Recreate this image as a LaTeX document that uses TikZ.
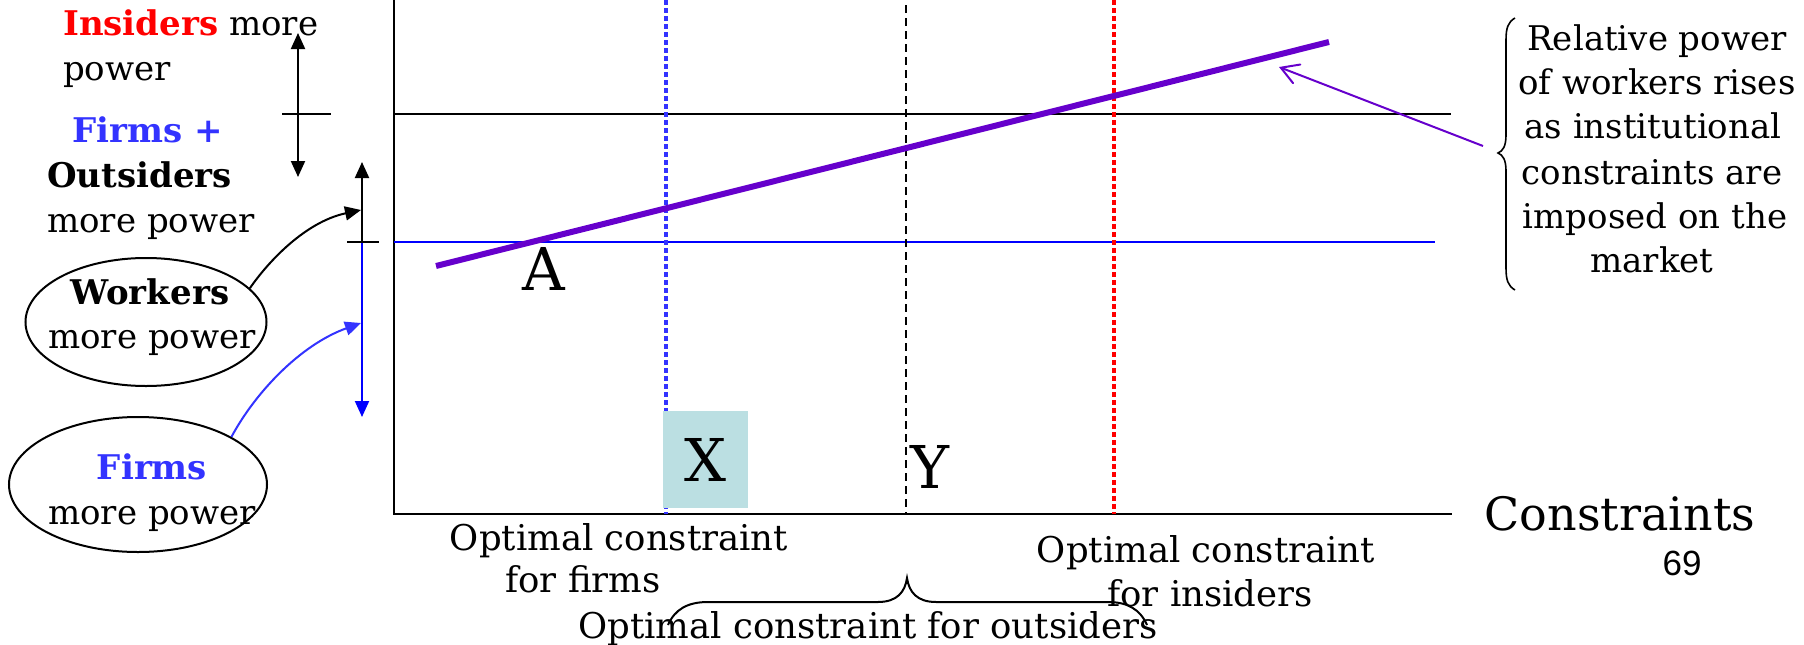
\documentclass[tikz,border=0pt]{standalone}
\usepackage{fontspec}
\setmainfont{DejaVu Serif}
\newfontfamily\numfont{Liberation Sans}
\usetikzlibrary{arrows.meta,shapes.geometric}
\definecolor{purp}{HTML}{6600CC}
\definecolor{fblue}{HTML}{3333FF}
\definecolor{pblue}{HTML}{0000FF}
\definecolor{lblue}{HTML}{BBDFE2}
\definecolor{pred}{HTML}{FF0000}
\tikzset{
  axisline/.style={line width=2.5pt, line cap=rect},
  btxt/.style={inner sep=0pt, anchor=base, font=\fontsize{35.5}{43}\selectfont},
  ltxt/.style={inner sep=0pt, anchor=base west, font=\fontsize{34}{44}\selectfont},
  etxt/.style={inner sep=0pt, anchor=base, font=\fontsize{34}{44}\selectfont},
  rtxt/.style={inner sep=0pt, anchor=base, font=\fontsize{34}{44}\selectfont},
  bigl/.style={inner sep=0pt, font=\fontsize{59}{70}\selectfont},
  oval/.style={draw, ellipse, line width=2pt, inner sep=0pt},
  tri/.style={-{Triangle[length=16pt,width=14pt]}},
  vdot/.style={line width=3.5pt, dash pattern=on 5pt off 3pt},
}
\begin{document}
\begin{tikzpicture}[x=1pt,y=-1pt]
\useasboundingbox (0,0) rectangle (1804,645);
% axes
\coordinate (ytop) at (394,0);
\coordinate (O) at (394,514);
\coordinate (xend) at (1451,514);
\draw[axisline] (ytop) -- (O) -- (xend);
% horizontal levels
\coordinate (hb0) at (394,114); \coordinate (hb1) at (1451,114);
\draw[line width=2pt] (hb0) -- (hb1);
\coordinate (hl0) at (394,242); \coordinate (hl1) at (1435,242);
\draw[line width=2.5pt, pblue] (hl0) -- (hl1);
% vertical constraint lines
\coordinate (vf0) at (666,0); \coordinate (vf1) at (666,514);
\draw[vdot, fblue] (vf0) -- (vf1);
\coordinate (vo0) at (906,5); \coordinate (vo1) at (906,514);
\draw[line width=1.5pt, dash pattern=on 8pt off 5pt] (vo0) -- (vo1);
\coordinate (vi0) at (1114,0); \coordinate (vi1) at (1114,514);
\draw[vdot, pred] (vi0) -- (vi1);
% X box
\node[bigl, fill=lblue, minimum width=85pt, minimum height=97pt] (xbox) at (705.5,459.5) {X};
\node[bigl, anchor=base] (ylab) at (930,488) {Y};
% purple power line
\coordinate (p0) at (436,266); \coordinate (p1) at (1329,42);
\draw[line width=6pt, purp] (p0) -- (p1);
\node[bigl, anchor=base] (alab) at (544,290) {A};
% annotation arrow
\coordinate (pa0) at (1483,146); \coordinate (pa1) at (1279,67);
\draw[line width=2pt, purp, -{Straight Barb[length=17pt,width=20pt,line cap=round]}] (pa0) -- (pa1);
% right brace and text
\draw[line width=1.6pt] (1515,18) .. controls (1508,22) and (1506,28) .. (1506,40) -- (1506,135)
  .. controls (1506,146) and (1503,151) .. (1498,153)
  .. controls (1503,155) and (1506,160) .. (1506,171) -- (1506,268)
  .. controls (1506,280) and (1508,286) .. (1515,290);
\node[rtxt] (r1) at (1657,50) {Relative power};
\node[rtxt] (r2) at (1657,94) {of workers rises};
\node[rtxt] (r3) at (1653,138) {as institutional};
\node[rtxt] (r4) at (1652,184) {constraints are};
\node[rtxt] (r5) at (1655,228) {imposed on the};
\node[rtxt] (r6) at (1652,272) {market};
% axis label and page number
\node[inner sep=0pt, anchor=base, font=\fontsize{46}{55}\selectfont] (cons) at (1620,530) {Constraints};
\node[inner sep=0pt, anchor=base, font=\numfont\fontsize{35}{42}\selectfont] (pg) at (1682,575) {69};
% bottom labels
\node[btxt] (f1) at (619,550) {Optimal constraint};
\node[btxt] (f2) at (583,592) {for firms};
\node[btxt] (i1) at (1206,562) {Optimal constraint};
\node[btxt] (i2) at (1210,606) {for insiders};
\node[btxt] (o1) at (868,638) {Optimal constraint for outsiders};
\draw[line width=2pt] (668,625) .. controls (675,609) and (688,602) .. (708,602) -- (878,602)
  .. controls (897,602) and (905,592) .. (907,578)
  .. controls (909,592) and (917,602) .. (936,602) -- (1108,602)
  .. controls (1127,602) and (1140,609) .. (1147,625);
% left texts
\node[ltxt] (ins) at (63,35) {\textbf{\color{pred}Insiders} more};
\node[ltxt] (ins2) at (63,80) {power};
\node[ltxt] (fo1) at (72,142) {\textbf{\color{fblue}Firms +}};
\node[ltxt] (fo2) at (47,187) {\textbf{Outsiders}};
\node[ltxt] (fo3) at (47,232) {more power};
% left scale arrows
\coordinate (da0) at (298,33); \coordinate (da1) at (298,177);
\draw[line width=2pt, {Triangle[length=16pt,width=14pt]}-{Triangle[length=16pt,width=14pt]}] (da0) -- (da1);
\coordinate (tk0) at (282,114); \coordinate (tk1) at (331,114);
\draw[line width=2pt] (tk0) -- (tk1);
\coordinate (t2) at (362,242); \coordinate (up2) at (362,162); \coordinate (dn2) at (362,417);
\draw[line width=2pt, tri] (t2) -- (up2);
\draw[line width=2pt, tri, pblue] (t2) -- (dn2);
\coordinate (tk2) at (347,242); \coordinate (tk3) at (379,242);
\draw[line width=2pt] (tk2) -- (tk3);
% ellipses
\node[oval, minimum width=241pt, minimum height=128pt] (work) at (146,322) {};
\node[etxt] (w1) at (150,304) {\textbf{Workers}};
\node[etxt] (w2) at (152,348) {more power};
\node[oval, minimum width=258pt, minimum height=135pt] (firm) at (138,484.5) {};
\node[etxt] (fm1) at (152,479) {\textbf{\color{fblue}Firms}};
\node[etxt] (fm2) at (152,524) {more power};
% connectors to the scale
\coordinate (wtip) at (361,210);
\coordinate (ftip) at (361,323);
\draw[line width=2pt, tri] (work.18) .. controls (268,262) and (305,222) .. (wtip);
\draw[line width=2pt, tri, fblue] (firm.27) .. controls (255,393) and (300,345) .. (ftip);
\end{tikzpicture}
\end{document}
